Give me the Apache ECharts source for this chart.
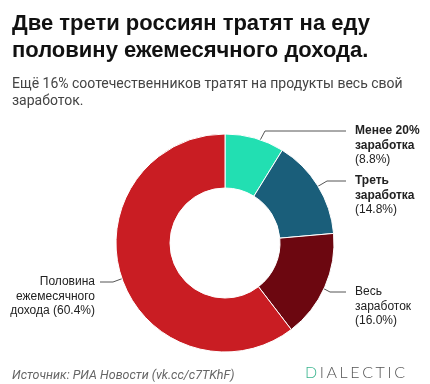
<!DOCTYPE html>
<html><head><meta charset="utf-8">
<script src="https://cdn.jsdelivr.net/npm/echarts@6/dist/echarts.min.js"></script>
<style>
html,body{margin:0;padding:0;background:#fff;}
#c{width:430px;height:384px;}
</style></head>
<body><div id="c"></div>
<script>
const categories = ["Менее 20% заработка", "Треть заработка", "Весь заработок", "Половина ежемесячного дохода"];
const values = [8.8, 14.8, 16.0, 60.4];
const colors = ["#22dfb2", "#1a5e7a", "#6c0710", "#c91d23"];
// label texts: bold lines, normal lines
const labelBold = [["Менее 20%", "заработка"], ["Треть", "заработка"], [], []];
const labelNormal = [["(8.8%)"], ["(14.8%)"], ["Весь", "заработок", "(16.0%)"], ["Половина", "ежемесячного", "дохода (60.4%)"]];

const chart = echarts.init(document.getElementById('c'), null, {renderer: 'canvas'});
const FONT = '"Liberation Sans", Arial, sans-serif';
chart.setOption({
  animation: false,
  title: [{
    text: "Две трети россиян тратят на еду\nполовину ежемесячного дохода.",
    left: 7, top: 5,
    textStyle: {fontFamily: FONT, fontWeight: 'bold', fontSize: 22, lineHeight: 27, color: '#111'}
  }, {
    text: "Ещё 16% соотечественников тратят на продукты весь свой\nзаработок.",
    left: 7, top: 71,
    textStyle: {fontFamily: 'Roboto, sans-serif', fontWeight: 'normal', fontSize: 14, lineHeight: 17, color: '#444'}
  }, {
    text: "Источник: РИА Новости (vk.cc/c7TKhF)",
    left: 7, top: 364,
    textStyle: {fontFamily: 'Roboto, sans-serif', fontStyle: 'italic', fontWeight: 'normal', fontSize: 12.5, color: '#666'}
  }],
  series: [{
    type: 'pie',
    center: [225, 243],
    radius: [55, 109],
    startAngle: 90,
    clockwise: true,
    silent: true,
    label: {show: false},
    labelLine: {show: false},
    itemStyle: {borderColor: '#fff', borderWidth: 1},
    data: categories.map((c, i) => ({name: c, value: values[i], itemStyle: {color: colors[i]}}))
  }]
});

// build annotations from the library's computed sector layout
const data = chart.getModel().getSeriesByIndex(0).getData();
const elbows = [[265, 131], [327, 181], [330, 292], [113, 282]];
const lineEnds = [346, 346, 346, 100];
const textX = [355, 355, 355, 95];
const textY = [131, 181, 292, 282];
const graphics = [];
for (let i = 0; i < values.length; i++) {
  const l = data.getItemLayout(i);
  const mid = (l.startAngle + l.endAngle) / 2;
  const rr = (l.r0 + l.r) / 2;
  const dx = l.cx + rr * Math.cos(mid);
  const dy = l.cy + rr * Math.sin(mid);
  graphics.push({type: 'polyline', silent: true, shape: {points: [[dx, dy], elbows[i], [lineEnds[i], elbows[i][1]]]},
    style: {stroke: '#555', lineWidth: 1, fill: null}});
  graphics.push({type: 'circle', silent: true, shape: {cx: dx, cy: dy, r: 2}, style: {fill: '#222'}});
  const right = textX[i] < 200;
  let y = textY[i];
  labelBold[i].forEach(t => {
    graphics.push({type: 'text', silent: true, x: textX[i], y: y, style: {text: t, font: 'bold 12px ' + FONT, fill: '#222', align: right ? 'right' : 'left', verticalAlign: 'middle'}});
    y += 14.5;
  });
  labelNormal[i].forEach(t => {
    graphics.push({type: 'text', silent: true, x: textX[i], y: y, style: {text: t, font: '12px ' + FONT, fill: '#222', align: right ? 'right' : 'left', verticalAlign: 'middle'}});
    y += 14.5;
  });
}
// logo with letter spacing
const logo = "DIALECTIC";
const logoFont = '300 16px Lato, sans-serif';
const ctx = document.createElement('canvas').getContext('2d');
ctx.font = logoFont;
let lx = 305;
for (let k = 0; k < logo.length; k++) {
  graphics.push({type: 'text', silent: true, x: lx, y: 373, style: {text: logo[k], font: logoFont, fill: k === 0 ? '#3bb58f' : '#555', verticalAlign: 'middle'}});
  lx += ctx.measureText(logo[k]).width + 2.6;
}
chart.setOption({graphic: graphics});
</script>
</body></html>
